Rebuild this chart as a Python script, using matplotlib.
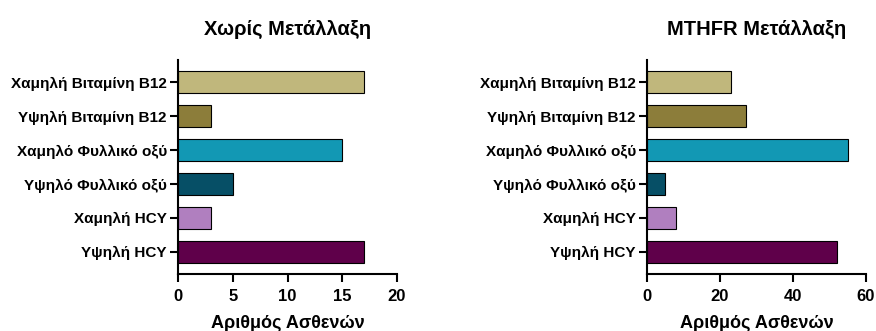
import matplotlib
matplotlib.use("Agg")
import matplotlib.pyplot as plt

plt.rcParams['font.family'] = ['Liberation Sans', 'DejaVu Sans']
plt.rcParams['font.weight'] = 'bold'

categories = ['Χαμηλή Βιταμίνη Β12', 'Υψηλή Βιταμίνη Β12', 'Χαμηλό Φυλλικό οξύ',
              'Υψηλό Φυλλικό οξύ', 'Χαμηλή HCY', 'Υψηλή HCY']
colors = ['#C0B77C', '#8C7D3A', '#1298B4', '#064F66', '#B07FBF', '#5F004A']

no_mutation = [17, 3, 15, 5, 3, 17]
mthfr_mutation = [23, 27, 55, 5, 8, 52]

titles = ['Χωρίς Μετάλλαξη', 'MTHFR Μετάλλαξη']
xlims = [20, 60]
xticks = [[0, 5, 10, 15, 20], [0, 20, 40, 60]]
xlabel = 'Αριθμός Ασθενών'

fig = plt.figure(figsize=(8.76, 3.31), dpi=100)
lefts = [178 / 876, 647 / 876]
w = 219 / 876
bottom = 1 - 274 / 331
h = (274 - 60) / 331

for i, vals in enumerate([no_mutation, mthfr_mutation]):
    ax = fig.add_axes([lefts[i], bottom, w, h])
    ypos = list(range(len(categories)))
    ax.barh(ypos, vals, height=0.65, color=colors, edgecolor='black', linewidth=0.8, zorder=2)
    ax.set_ylim(len(categories) - 0.35, -0.65)
    ax.set_xlim(0, xlims[i])
    ax.set_xticks(xticks[i])
    ax.set_yticks(ypos)
    ax.set_yticklabels(categories, fontsize=11, fontweight='bold')
    ax.tick_params(axis='x', labelsize=12, width=1.5, length=6, pad=4.5)
    ax.tick_params(axis='y', width=1.5, length=6, pad=2)
    for lab in ax.get_xticklabels():
        lab.set_fontweight('bold')
    for s in ['top', 'right']:
        ax.spines[s].set_visible(False)
    for s in ['left', 'bottom']:
        ax.spines[s].set_linewidth(1.5)
    ax.set_title(titles[i], fontsize=14.5, fontweight='bold', pad=18)
    ax.set_xlabel(xlabel, fontsize=13, fontweight='bold', labelpad=8)

fig.savefig('out.png', dpi=100)
